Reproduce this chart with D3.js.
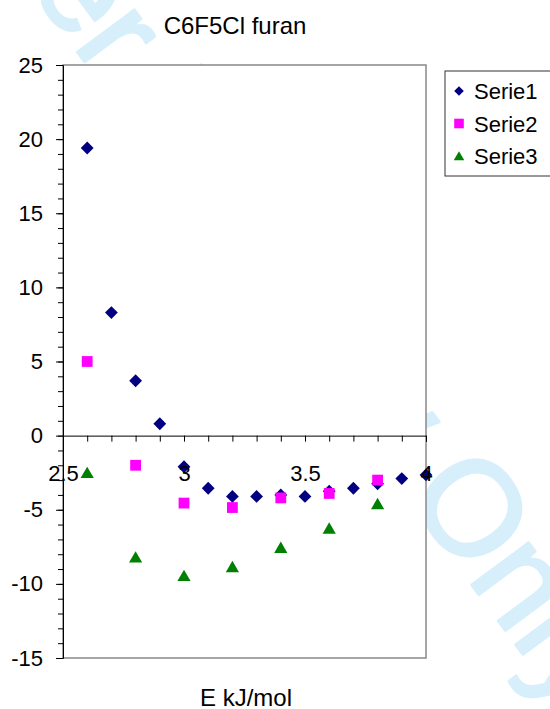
<!DOCTYPE html>
<html>
<head>
<meta charset="utf-8">
<script src="https://cdnjs.cloudflare.com/ajax/libs/d3/7.8.5/d3.min.js"></script>
<style>
  html, body { margin: 0; padding: 0; background: #fff; }
  svg { display: block; font-family: "Liberation Sans", Arial, sans-serif; }
</style>
</head>
<body>
<svg id="chart" width="550" height="709"></svg>
<script>
// ---- data ----
const serie1X = [2.6, 2.7, 2.8, 2.9, 3.0, 3.1, 3.2, 3.3, 3.4, 3.5, 3.6, 3.7, 3.8, 3.9, 4.0];
const serie1Y = [19.4, 8.3, 3.7, 0.8, -2.1, -3.55, -4.1, -4.1, -4.0, -4.1, -3.75, -3.55, -3.25, -2.9, -2.65];
const serie2X = [2.6, 2.8, 3.0, 3.2, 3.4, 3.6, 3.8];
const serie2Y = [5.0, -2.0, -4.55, -4.85, -4.2, -3.9, -3.0];
const serie3X = [2.6, 2.8, 3.0, 3.2, 3.4, 3.6, 3.8];
const serie3Y = [-2.5, -8.2, -9.45, -8.85, -7.55, -6.25, -4.6];
const seriesNames = ["Serie1", "Serie2", "Serie3"];
const xTickValues = [2.5, 3, 3.5, 4];
const xTickLabels = ["2.5", "3", "3.5", "4"];
const yTickValues = [-15, -10, -5, 0, 5, 10, 15, 20, 25];
const yTickLabels = ["-15", "-10", "-5", "0", "5", "10", "15", "20", "25"];
const chartTitle = "C6F5Cl furan";
const xAxisTitle = "E kJ/mol";
const watermarkLead = "For Peer Review";
const watermarkTail = "Only";

// ---- setup ----
const svg = d3.select("#chart");
const x = d3.scaleLinear().domain([2.5, 4]).range([63, 426]);
const y = d3.scaleLinear().domain([-15, 25]).range([658, 65]);
const colors = ["#000080", "#FF00FF", "#008000"];

// watermark
const wmSize = 134;
const wm = svg.append("g").attr("transform", "translate(474,507) rotate(53.5)")
  .attr("fill", "#d7effb").attr("stroke", "#d7effb").attr("stroke-width", 3)
  .attr("stroke-linejoin", "round").style("font-size", wmSize + "px");
wm.append("text").attr("x", -0.389 * wmSize).attr("y", 0.36 * wmSize).text(watermarkTail);
wm.append("text").attr("x", -0.389 * wmSize - 0.278 * wmSize).attr("y", 0.36 * wmSize)
  .attr("text-anchor", "end").text(watermarkLead);

// plot area
svg.append("rect").attr("x", x(2.5)).attr("y", y(25))
  .attr("width", x(4) - x(2.5)).attr("height", y(-15) - y(25))
  .attr("fill", "#fff").attr("stroke", "#888").attr("stroke-width", 1.5);

// minor y ticks
const yMinor = d3.range(-15, 26, 1);
svg.append("g").attr("transform", `translate(${x(2.5)},0)`)
  .call(d3.axisLeft(y).tickValues(yMinor).tickSize(5).tickFormat(""))
  .call(g => g.select(".domain").remove())
  .selectAll("line").attr("stroke", "#000");

// major y axis
svg.append("g").attr("transform", `translate(${x(2.5)},0)`)
  .call(d3.axisLeft(y).tickValues(yTickValues).tickSize(7).tickPadding(13)
    .tickFormat((d, i) => yTickLabels[i]))
  .call(g => g.select(".domain").attr("stroke", "#000"))
  .call(g => g.selectAll("text").style("font-size", "22px").attr("fill", "#000")
    .attr("font-family", "Liberation Sans, Arial, sans-serif"));

// x minor ticks
const xMinor = d3.range(25, 41, 1).map(v => v / 10);
svg.append("g").attr("transform", `translate(0,${y(0)})`)
  .call(d3.axisBottom(x).tickValues(xMinor).tickSize(6).tickFormat(""))
  .call(g => g.select(".domain").attr("stroke", "#000"));

// marker generators
function markerPath(kind, s) {
  if (kind === 0) return `M0,${-s}L${s},0L0,${s}L${-s},0Z`;           // diamond
  if (kind === 1) return `M${-s},${-s}H${s}V${s}H${-s}Z`;             // square
  return `M0,${-s}L${s * 1.1},${s * 0.9}H${-s * 1.1}Z`;               // triangle
}

// series
const seriesData = [
  serie1X.map((v, i) => [v, serie1Y[i]]),
  serie2X.map((v, i) => [v, serie2Y[i]]),
  serie3X.map((v, i) => [v, serie3Y[i]])
];
const half = [6.4, 5.4, 6];
seriesData.forEach((pts, si) => {
  svg.append("g").selectAll("path").data(pts).join("path")
    .attr("transform", d => `translate(${x(d[0])},${y(d[1])})`)
    .attr("d", markerPath(si, half[si]))
    .attr("fill", colors[si]);
});

// x labels (on top of markers)
const xAx = svg.append("g").attr("transform", `translate(0,${y(0)})`)
  .call(d3.axisBottom(x).tickValues(xTickValues).tickSize(0).tickFormat((d, i) => xTickLabels[i]));
xAx.select(".domain").remove();
xAx.selectAll("text").attr("y", 45).attr("dy", 0).style("font-size", "22px").attr("fill", "#000")
  .attr("font-family", "Liberation Sans, Arial, sans-serif");

// titles
svg.append("text").attr("x", 235).attr("y", 34).attr("text-anchor", "middle")
  .style("font-size", "24px").text(chartTitle);
svg.append("text").attr("x", 246).attr("y", 706).attr("text-anchor", "middle")
  .style("font-size", "24px").text(xAxisTitle);

// legend
const lg = svg.append("g");
lg.append("rect").attr("x", 445).attr("y", 71).attr("width", 106).attr("height", 105)
  .attr("fill", "#fff").attr("stroke", "#333").attr("stroke-width", 1);
const lgHalf = [4.8, 4.8, 4.8];
seriesNames.forEach((name, i) => {
  const cy = 91 + i * 32.5;
  lg.append("path").attr("transform", `translate(459,${cy})`)
    .attr("d", markerPath(i, lgHalf[i])).attr("fill", colors[i]);
  lg.append("text").attr("x", 474).attr("y", cy + 8).style("font-size", "22px").text(name);
});
</script>
</body>
</html>
